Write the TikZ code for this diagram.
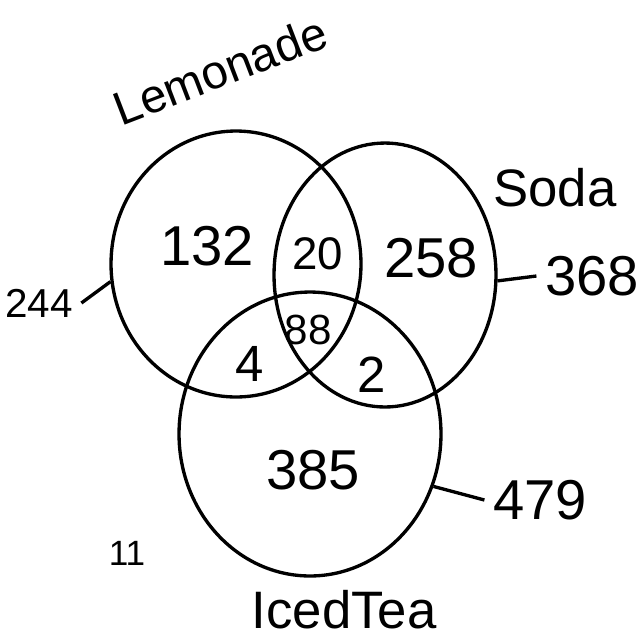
\documentclass[tikz,border=0pt]{standalone}
\usepackage{fontspec}
\setmainfont{Liberation Sans}
\usetikzlibrary{shapes.geometric}

\begin{document}
\begin{tikzpicture}[x=0.02cm, y=-0.02cm, line width=1.9pt,
  set/.style={draw, ellipse, inner sep=0pt},
  count/.style={font=\fontsize{32}{36}\selectfont, inner sep=4pt},
  smallcount/.style={font=\fontsize{26}{30}\selectfont, inner sep=4pt},
  title/.style={font=\fontsize{30}{36}\selectfont}]
  \useasboundingbox (0,0) rectangle (641,640);
  \node[set, minimum width=5cm, minimum height=5.32cm] (lem) at (236,264) {};
  \node[set, minimum width=4.44cm, minimum height=5.28cm] (soda) at (385,275) {};
  \node[set, minimum width=5.24cm, minimum height=5.68cm] (tea) at (310,434) {};
  \node[title, rotate=21, font=\fontsize{27}{32}\selectfont] (lemlabel) at (220,70) {Lemonade};
  \node[title] (sodalabel) at (555,188) {Soda};
  \node[title] (tealabel) at (344,610) {IcedTea};
  \node[count] (n132) at (207,246) {132};
  \node[smallcount] (n20) at (318,254) {20};
  \node[count] (n258) at (431,258) {258};
  \node[smallcount, font=\fontsize{29}{32}\selectfont] (n4) at (250,364) {4};
  \node[smallcount, font=\fontsize{24}{28}\selectfont] (n88) at (308,330) {88};
  \node[smallcount, font=\fontsize{29}{32}\selectfont] (n2) at (372,375) {2};
  \node[count] (n385) at (313,470) {385};
  \node[smallcount, font=\fontsize{23}{28}\selectfont] (n244) at (39,303) {244};
  \node[count] (n368) at (592,276) {368};
  \node[count] (n479) at (540,500) {479};
  \node[smallcount, font=\fontsize{20}{24}\selectfont] (n11) at (127,553) {11};
  \draw (lem.188) -- (n244.east);
  \draw (soda.-3) -- (n368.west);
  \draw (tea.-23) -- (n479.west);
\end{tikzpicture}
\end{document}
